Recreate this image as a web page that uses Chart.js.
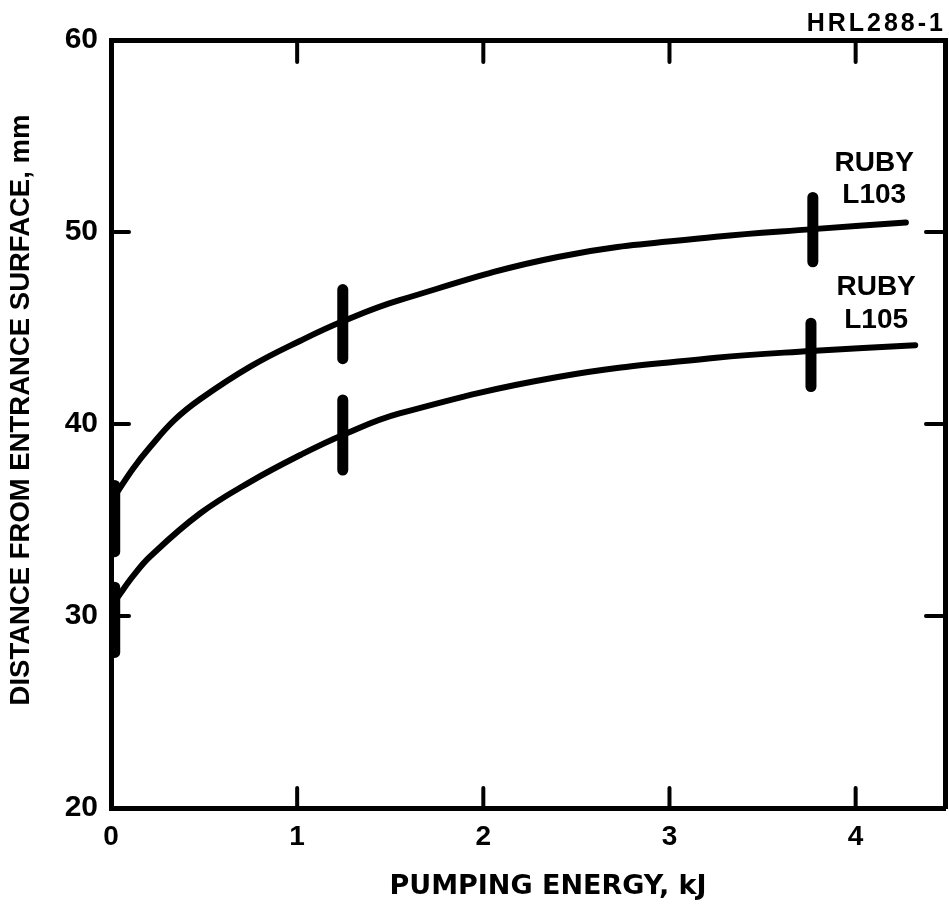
<!DOCTYPE html>
<html>
<head>
<meta charset="utf-8">
<script src="https://cdn.jsdelivr.net/npm/chart.js@4"></script>
<style>
  html, body { margin: 0; padding: 0; background: #fff; }
  #wrap { width: 949px; height: 907px; }
</style>
</head>
<body>
<div id="wrap"><canvas id="chart"></canvas></div>
<script>
// curves (energy in kJ, distance in mm)
const energy103 = [0.03, 0.12, 0.21, 0.34, 0.48, 0.75, 1.02, 1.245, 1.55, 2.40, 3.25, 3.77, 4.27];
const dist103   = [36.4, 37.7, 38.8, 40.2, 41.3, 43.0, 44.35, 45.35, 46.45, 48.7, 49.75, 50.15, 50.5];
const energy105 = [0.03, 0.12, 0.21, 0.48, 0.75, 1.02, 1.245, 1.55, 2.40, 3.25, 3.76, 4.32];
const dist105   = [30.9, 32.1, 33.1, 35.35, 37.0, 38.4, 39.43, 40.55, 42.45, 43.45, 43.8, 44.1];

// vertical error bars
const barEnergy103 = [0.02, 1.245, 3.77];
const barLow103    = [33.35, 43.4, 48.45];
const barHigh103   = [36.8, 47.0, 51.8];
const barEnergy105 = [0.02, 1.245, 3.76];
const barLow105    = [28.1, 37.6, 41.95];
const barHigh105   = [31.5, 41.25, 45.25];

const xTicks = [0, 1, 2, 3, 4];
const yTicks = [20, 30, 40, 50, 60];
const curveLabels = [['RUBY', 'L103'], ['RUBY', 'L105']];
const xTitle = 'PUMPING ENERGY, kJ';
const yTitle = 'DISTANCE FROM ENTRANCE SURFACE, mm';
const figId = 'HRL288-1';

const FONT = '"Liberation Sans", Arial, sans-serif';

function toPoints(xs, ys) {
  return xs.map((x, i) => ({ x: x, y: ys[i] }));
}

function curve(xs, ys) {
  return {
    data: toPoints(xs, ys),
    borderColor: '#000',
    borderWidth: 6,
    borderCapStyle: 'round',
    pointRadius: 0,
    tension: 0.4,
    clip: false
  };
}

function errorBars(xs, lo, hi) {
  return xs.map((x, i) => ({
    data: [{ x: x, y: lo[i] }, { x: x, y: hi[i] }],
    borderColor: '#000',
    borderWidth: 11,
    borderCapStyle: 'round',
    pointRadius: 0,
    clip: false
  }));
}

const datasets = [
  curve(energy103, dist103),
  curve(energy105, dist105),
  ...errorBars(barEnergy103, barLow103, barHigh103),
  ...errorBars(barEnergy105, barLow105, barHigh105)
];

// inward tick marks, axis titles, curve labels and figure number
const extras = {
  id: 'extras',
  afterDraw(chart) {
    const ctx = chart.ctx;
    const xs = chart.scales.x, ys = chart.scales.y;
    const a = chart.chartArea;
    ctx.save();
    ctx.strokeStyle = '#000';
    ctx.lineWidth = 4;
    ctx.lineCap = 'round';
    ctx.beginPath();
    xTicks.slice(1).forEach(v => {
      const px = xs.getPixelForValue(v);
      ctx.moveTo(px, a.top); ctx.lineTo(px, a.top + 22);
      ctx.moveTo(px, a.bottom); ctx.lineTo(px, a.bottom - 20);
    });
    yTicks.slice(1, -1).forEach(v => {
      const py = ys.getPixelForValue(v);
      ctx.moveTo(a.left, py); ctx.lineTo(a.left + 18, py);
      ctx.moveTo(a.right, py); ctx.lineTo(a.right - 19, py);
    });
    ctx.stroke();

    ctx.fillStyle = '#000';
    ctx.textAlign = 'center';
    ctx.textBaseline = 'middle';

    // axis titles
    ctx.font = 'bold 27px "DejaVu Sans", sans-serif';
    ctx.fillText(xTitle, 548, 887);
    ctx.save();
    ctx.translate(21, 410);
    ctx.rotate(-Math.PI / 2);
    ctx.font = 'bold 27.5px ' + FONT;
    ctx.fillText(yTitle, 0, 0);
    ctx.restore();

    // curve labels
    ctx.font = 'bold 28px ' + FONT;
    const spots = [[4.1, 53.6, 51.9], [4.11, 47.1, 45.4]];
    curveLabels.forEach((lines, i) => {
      const px = xs.getPixelForValue(spots[i][0]);
      ctx.fillText(lines[0], px, ys.getPixelForValue(spots[i][1]));
      ctx.fillText(lines[1], px, ys.getPixelForValue(spots[i][2]));
    });

    ctx.font = 'bold 25px ' + FONT;
    ctx.letterSpacing = '3px';
    ctx.textAlign = 'right';
    ctx.textBaseline = 'alphabetic';
    ctx.fillText(figId, 946, 31);
    ctx.restore();
  }
};

new Chart(document.getElementById('chart'), {
  type: 'line',
  data: { datasets: datasets },
  options: {
    responsive: true,
    maintainAspectRatio: false,
    animation: false,
    layout: { padding: 0 },
    plugins: { legend: { display: false }, tooltip: { enabled: false } },
    scales: {
      x: {
        type: 'linear',
        position: 'bottom',
        min: 0,
        max: 4.48,
        afterFit: s => { s.height = 99; },
        afterBuildTicks: s => { s.ticks = xTicks.map(v => ({ value: v })); },
        grid: { display: false, drawTicks: false },
        border: { display: true, color: '#000', width: 5 },
        ticks: { color: '#000', padding: 12, font: { family: FONT, size: 28, weight: 'bold' } }
      },
      x2: {
        type: 'linear',
        position: 'top',
        min: 0,
        max: 4.48,
        afterFit: s => { s.height = 40; },
        grid: { display: false, drawTicks: false },
        border: { display: true, color: '#000', width: 5 },
        ticks: { display: false }
      },
      y: {
        type: 'linear',
        position: 'left',
        min: 20,
        max: 60,
        afterFit: s => { s.width = 111; },
        afterBuildTicks: s => { s.ticks = yTicks.map(v => ({ value: v })); },
        grid: { display: false, drawTicks: false },
        border: { display: true, color: '#000', width: 5 },
        ticks: { color: '#000', padding: 13, font: { family: FONT, size: 30, weight: 'bold' } }
      },
      y2: {
        type: 'linear',
        position: 'right',
        min: 20,
        max: 60,
        afterFit: s => { s.width = 4; },
        grid: { display: false, drawTicks: false },
        border: { display: true, color: '#000', width: 5 },
        ticks: { display: false }
      }
    }
  },
  plugins: [extras]
});
</script>
</body>
</html>
